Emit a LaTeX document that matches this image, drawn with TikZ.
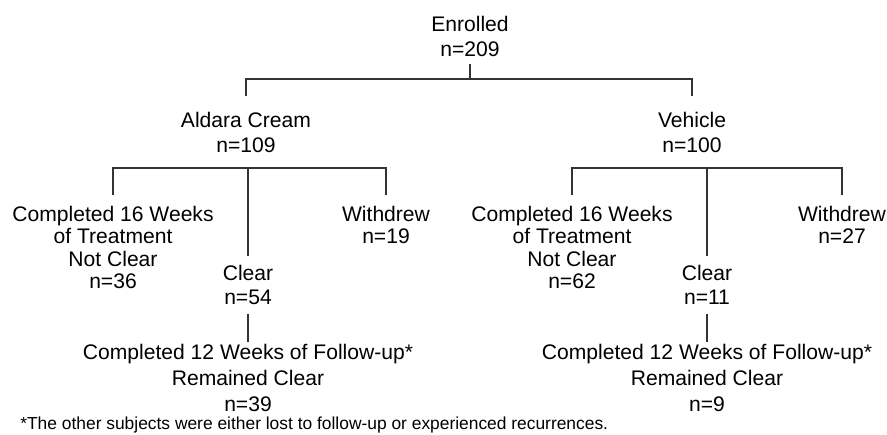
\documentclass[tikz,border=0pt]{standalone}
\usepackage{fontspec}
\setmainfont{Liberation Sans}
\tikzset{
txt/.style={align=center, inner sep=0pt, anchor=north, font=\fontsize{12}{14.2}\selectfont},
arm/.style={txt, outer ysep=0.32cm},
leaf/.style={txt, font=\fontsize{12}{12.8}\selectfont, outer ysep=0.22cm},
clr/.style={txt, font=\fontsize{12}{13.9}\selectfont, outer ysep=0.18cm},
fup/.style={txt, font=\fontsize{12}{14.8}\selectfont, outer ysep=0.04cm},
tree/.style={draw=black!80, line width=0.7pt}
}

\begin{document}
\begin{tikzpicture}[x=0.02cm, y=-0.02cm]
\useasboundingbox (0,0) rectangle (887,434);
\node[txt, outer ysep=0.16cm] (enr) at (470,8) {Enrolled\\n=209};
\coordinate (jTop) at (470,79);
\node[arm] (ald) at (246,96) {Aldara Cream\\n=109};
\node[arm] (veh) at (692,96) {Vehicle\\n=100};
% Aldara arm
\coordinate (jAld) at (248,168);
\node[leaf] (notA) at (113,195) {Completed 16 Weeks\\of Treatment\\Not Clear\\n=36};
\node[leaf] (wdA) at (386,195) {Withdrew\\n=19};
\node[clr] (clrA) at (248,256) {Clear\\n=54};
\node[fup] (fupA) at (248,342) {Completed 12 Weeks of Follow-up*\\Remained Clear\\n=39};
% Vehicle arm
\coordinate (jVeh) at (707,168);
\node[leaf] (notB) at (572,195) {Completed 16 Weeks\\of Treatment\\Not Clear\\n=62};
\node[leaf] (wdB) at (842,195) {Withdrew\\n=27};
\node[clr] (clrB) at (707,256) {Clear\\n=11};
\node[fup] (fupB) at (707,342) {Completed 12 Weeks of Follow-up*\\Remained Clear\\n=9};
\node[anchor=base west, inner sep=0pt, font=\fontsize{9.9}{12}\selectfont] (note) at (20,429) {*The other subjects were either lost to follow-up or experienced recurrences.};
% lines
\draw[tree] (enr.south) -- (jTop);
\draw[tree] (ald.north) |- (jTop) -| (veh.north);
\draw[tree] (notA.north) |- (jAld) -| (wdA.north);
\draw[tree] (jAld) -- (clrA.north);
\draw[tree] (clrA.south) -- (fupA.north);
\draw[tree] (notB.north) |- (jVeh) -| (wdB.north);
\draw[tree] (jVeh) -- (clrB.north);
\draw[tree] (clrB.south) -- (fupB.north);
\end{tikzpicture}
\end{document}
